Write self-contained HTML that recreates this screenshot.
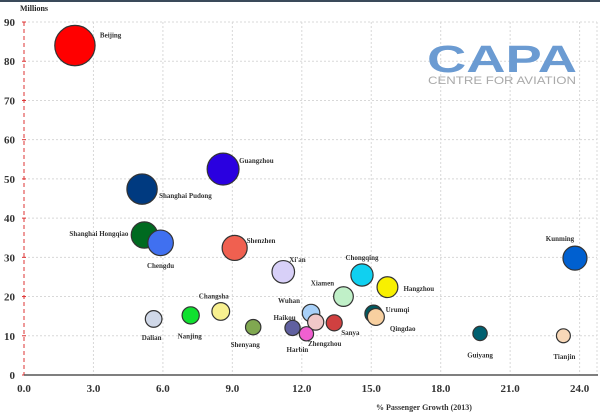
<!DOCTYPE html>
<html><head><meta charset="utf-8"><style>
html,body{margin:0;padding:0;background:#fff;}
svg{display:block;font-family:"Liberation Serif",serif;}
</style></head><body>
<svg id="chart" width="600" height="415">
<rect x="0" y="0" width="600" height="2" fill="#3a4a5a"/>
<g id="grid"></g>
<g id="axes"></g>
<text x="20" y="11" font-size="8" font-weight="bold" fill="#222">Millions</text>
<text x="376" y="410" font-size="8" font-weight="bold" fill="#333">% Passenger Growth (2013)</text>
<g>
<text x="427" y="72" font-family="Liberation Sans,sans-serif" font-size="38" font-weight="bold" fill="#6b9bd2" textLength="150" lengthAdjust="spacingAndGlyphs">CAPA</text>
<text x="428" y="84" font-family="Liberation Sans,sans-serif" font-size="11" fill="#aaa" textLength="148" lengthAdjust="spacingAndGlyphs">CENTRE FOR AVIATION</text>
</g>
<g id="bubbles"></g>
</svg>
<script>
const cities=["Beijing","Guangzhou","Shanghai Pudong","Shanghai Hongqiao","Chengdu","Shenzhen","Xi'an","Chongqing","Hangzhou","Xiamen","Kunming","Wuhan","Urumqi","Qingdao","Sanya","Zhengzhou","Harbin","Haikou","Shenyang","Dalian","Nanjing","Changsha","Guiyang","Tianjin"];
const growth=[2.2,8.6,5.1,5.2,5.9,9.1,11.2,14.6,15.7,13.8,23.8,12.4,15.1,15.2,13.4,12.6,12.2,11.6,9.9,5.6,7.2,8.5,19.7,23.3];
const passengers=[84,52.5,47.4,35.7,33.7,32.4,26.3,25.5,22.4,20,29.8,15.8,15.6,14.8,13.3,13.5,10.5,12,12.2,14.3,15.2,16.2,10.6,10];
const colors=["#ff0000","#2a00e0","#003a80","#006a20","#4070f0","#f06050","#d8d0f8","#10d0f0","#f8f000","#c0f0c8","#0060d0","#a8d0f8","#005a60","#f8d0a0","#d04040","#f0c8c8","#f060d0","#6060a0","#80a850","#d0d8e8","#10e030","#f8f090","#006070","#f8d8b8"];
const xTicks=["0.0","3.0","6.0","9.0","12.0","15.0","18.0","21.0","24.0"];
const yTicks=["0","10","20","30","40","50","60","70","80","90"];
// label offsets (layout, px): dx, dy, anchor
const labDx=[25,16,17,-16,0,12,6,0,16,-21,-15,-22,12,14,7,9,-9,-8,-8,-2,-1,-7,0,1];
const labDy=[-11,-9,6,-2,22,-8,-13,-18,1,-14,-20,-13,-5,11,9,21,15,-11,17,18,20,-16,21,20];
const labAn=["start","start","start","end","middle","start","start","middle","start","middle","middle","middle","start","start","start","middle","middle","middle","middle","middle","middle","middle","middle","middle"];
const NS="http://www.w3.org/2000/svg";
const X=v=>24+v*23.15, Y=v=>375-v*3.922, R=v=>2.2*Math.sqrt(v);
const grid=document.getElementById('grid'), axes=document.getElementById('axes'), bub=document.getElementById('bubbles');
function mk(tag,at,parent){const e=document.createElementNS(NS,tag);for(const k in at)e.setAttribute(k,at[k]);parent.appendChild(e);return e;}
xTicks.forEach(t=>{const x=X(parseFloat(t));
 if(parseFloat(t)>0){const l=mk('line',{x1:x,y1:22,x2:x,y2:375,stroke:'#d8d8d8','stroke-dasharray':'2,2'},grid);
 
 }
 const tx=mk('text',{x:x,y:392,'font-size':11,'font-weight':'bold','text-anchor':'middle',fill:'#333'},axes);tx.textContent=t;
 
 
});
mk('line',{x1:597,y1:22,x2:597,y2:375,stroke:'#d8d8d8','stroke-dasharray':'2,2'},grid);
yTicks.forEach(t=>{const y=Y(parseFloat(t));
 if(parseFloat(t)>0){const l=mk('line',{x1:24,y1:y,x2:597,y2:y,stroke:'#d8d8d8','stroke-dasharray':'2,2'},grid);
 
 }
 mk('line',{x1:22,y1:y,x2:26,y2:y,stroke:'#d33'},axes);
 const tx=mk('text',{x:15,y:y+4,'font-size':11,'font-weight':'bold','text-anchor':'end',fill:'#333'},axes);tx.textContent=t;
 
 
});
mk('line',{x1:24,y1:22,x2:24,y2:375,stroke:'#d33','stroke-dasharray':'4,3'},axes);
mk('line',{x1:24,y1:375,x2:598,y2:375,stroke:'#555','stroke-width':1.5},axes);
cities.forEach((c,i)=>{
 const cx=X(growth[i]), cy=Y(passengers[i]);
 const ci=mk('circle',{cx:cx,cy:cy,r:R(passengers[i]),fill:colors[i],stroke:'#333','stroke-width':1.2},bub);
 
 
 const t=mk('text',{x:cx+labDx[i],y:cy+labDy[i]+3,'font-size':7,'font-weight':'bold','text-anchor':labAn[i],fill:'#333'},bub);t.textContent=c;
 
 
});
</script>
</body></html>
